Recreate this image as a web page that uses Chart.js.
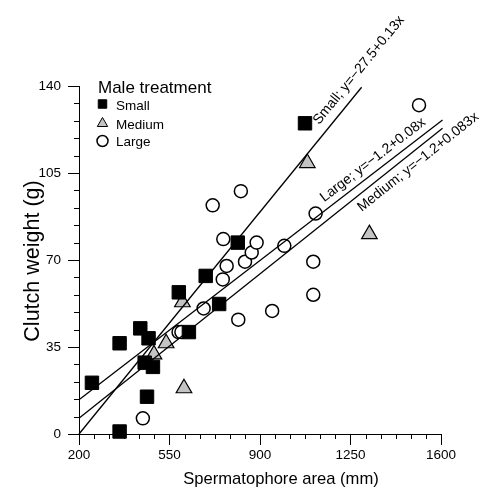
<!DOCTYPE html>
<html><head><meta charset="utf-8">
<script src="https://cdn.jsdelivr.net/npm/chart.js@4/dist/chart.umd.min.js"></script>
<style>html,body{margin:0;padding:0;background:#fff}#wrap{width:480px;height:489px;position:relative}</style>
</head><body><div id="wrap"><canvas id="c" width="480" height="489"></canvas></div>
<script>
// ---- data ----
const smallX  = [250, 357, 357, 437, 469, 454, 486, 463, 586, 625, 690, 742, 814, 1074];
const smallY  = [20.6, 36.5, 1, 42.5, 38.5, 28.7, 27, 15, 57, 41, 63.6, 52.3, 77, 125];
const mediumX = [490, 537, 600, 606, 1083, 1323];
const mediumY = [32, 36.5, 53, 18.4, 109, 80.4];
const largeX  = [447, 585, 596, 682, 717, 756, 758, 771, 816, 826, 842, 868, 887, 947, 994, 1106, 1106, 1115, 1515];
const largeY  = [6.3, 41, 41, 50.5, 92, 62.2, 78.4, 67.6, 46, 97.7, 69.3, 73, 77, 49.5, 75.7, 56, 69.3, 88.7, 132.3];
// regression lines (end points as drawn)
const lineSmallX  = [200, 1293];  const lineSmallY  = [0, 139.5];
const lineLargeX  = [200, 1606];  const lineLargeY  = [13.8, 126.3];
const lineMediumX = [200, 1606];  const lineMediumY = [6.3, 123];
// labels
const xTicks = [200, 550, 900, 1250, 1600];
const yTicks = [0, 35, 70, 105, 140];
const legendTitle = 'Male treatment';
const seriesNames = ['Small', 'Medium', 'Large'];
const lineLabels = ['Small; y=\u221227.5+0.13x', 'Large; y=\u22121.2+0.08x', 'Medium; y=\u22121.2+0.083x'];
const lineLabelAnchorX = [1155, 1165, 1257];
const xTitle = 'Spermatophore area (mm)';
const yTitle = 'Clutch weight (g)';

const FONT = '"Liberation Sans", Arial, Helvetica, sans-serif';
const pts = (xs, ys) => xs.map((x, i) => ({x, y: ys[i]}));

const deco = {
  id: 'deco',
  afterDraw(chart) {
    const ctx = chart.ctx, xs = chart.scales.x, ys = chart.scales.y;
    ctx.save();
    // minor ticks
    ctx.strokeStyle = '#000'; ctx.lineWidth = 1;
    ctx.beginPath();
    for (let k = 0; k < xTicks.length - 1; k++) {
      for (let j = 1; j < 6; j++) {
        const v = xTicks[k] + (xTicks[k+1] - xTicks[k]) * j / 6;
        const px = Math.round(xs.getPixelForValue(v)) + 0.5;
        ctx.moveTo(px, ys.bottom); ctx.lineTo(px, ys.bottom + 5);
      }
    }
    for (let k = 0; k < yTicks.length - 1; k++) {
      for (let j = 1; j < 5; j++) {
        const v = yTicks[k] + (yTicks[k+1] - yTicks[k]) * j / 5;
        const py = Math.round(ys.getPixelForValue(v)) + 0.5;
        ctx.moveTo(xs.left - 5, py); ctx.lineTo(xs.left, py);
      }
    }
    ctx.stroke();

    // axis titles
    ctx.fillStyle = '#000';
    ctx.font = '16.6px ' + FONT;
    ctx.textAlign = 'center'; ctx.textBaseline = 'alphabetic';
    ctx.fillText(xTitle, 281, 484);
    ctx.save();
    ctx.font = '21.5px ' + FONT;
    ctx.translate(39, 261); ctx.rotate(-Math.PI / 2);
    ctx.fillText(yTitle, 0, 0);
    ctx.restore();

    // line labels
    ctx.font = '14px ' + FONT;
    ctx.textAlign = 'left';
    const lines = [[lineSmallX, lineSmallY, -9], [lineLargeX, lineLargeY, -7], [lineMediumX, lineMediumY, 15]];
    lines.forEach((L, i) => {
      const [lx, ly, off] = L;
      const x0 = xs.getPixelForValue(lx[0]), y0 = ys.getPixelForValue(ly[0]);
      const x1 = xs.getPixelForValue(lx[1]), y1 = ys.getPixelForValue(ly[1]);
      const t = (lineLabelAnchorX[i] - lx[0]) / (lx[1] - lx[0]);
      const px = x0 + t * (x1 - x0), py = y0 + t * (y1 - y0);
      ctx.save();
      ctx.translate(px, py); ctx.rotate(Math.atan2(y1 - y0, x1 - x0));
      ctx.fillText(lineLabels[i], 0, off);
      ctx.restore();
    });

    // legend
    ctx.font = '17px ' + FONT;
    ctx.fillText(legendTitle, 98, 93);
    ctx.font = '13.5px ' + FONT;
    const leg = [
      {style: 'rect', r: 6, fill: '#000', border: '#000', bw: 1, y: 104, by: 110},
      {style: 'triangle', r: 6, fill: '#c4c4c4', border: '#000', bw: 1, y: 123.5, by: 129},
      {style: 'circle', r: 5.5, fill: '#fff', border: '#000', bw: 1.5, y: 141, by: 146}
    ];
    leg.forEach((it, i) => {
      ctx.fillStyle = it.fill; ctx.strokeStyle = it.border; ctx.lineWidth = it.bw;
      Chart.helpers.drawPoint(ctx, {pointStyle: it.style, radius: it.r, rotation: 0, borderWidth: it.bw}, 102.5, it.y);
      ctx.fillStyle = '#000';
      ctx.fillText(seriesNames[i], 116, it.by);
    });
    ctx.restore();
  }
};

const lineDs = (xs, ys) => ({
  type: 'scatter', data: pts(xs, ys), showLine: true, borderColor: '#000', borderWidth: 1.3,
  pointRadius: 0, fill: false, order: 0, clip: false
});

new Chart(document.getElementById('c'), {
  type: 'scatter',
  data: {
    datasets: [
      lineDs(lineSmallX, lineSmallY),
      lineDs(lineLargeX, lineLargeY),
      lineDs(lineMediumX, lineMediumY),
      {label: seriesNames[0], data: pts(smallX, smallY), pointStyle: 'rect', pointRadius: 9.5,
       backgroundColor: '#000', borderColor: '#000', borderWidth: 1, order: 1, clip: false},
      {label: seriesNames[1], data: pts(mediumX, mediumY), pointStyle: 'triangle', pointRadius: 9,
       backgroundColor: '#c4c4c4', borderColor: '#000', borderWidth: 1.2, order: 1, clip: false},
      {label: seriesNames[2], data: pts(largeX, largeY), pointStyle: 'circle', pointRadius: 6.5,
       backgroundColor: '#fff', borderColor: '#000', borderWidth: 1.5, order: 2, clip: false}
    ]
  },
  options: {
    responsive: false, animation: false, devicePixelRatio: 1,
    layout: {padding: {top: 86, right: 39, left: 0, bottom: 0}},
    plugins: {legend: {display: false}, tooltip: {enabled: false}},
    scales: {
      x: {
        type: 'linear', min: xTicks[0], max: xTicks[xTicks.length - 1],
        afterBuildTicks: s => { s.ticks = xTicks.map(v => ({value: v})); },
        afterFit: s => { s.height = 55; },
        ticks: {color: '#000', font: {family: FONT, size: 13.5}, padding: 2, maxRotation: 0,
                callback: v => String(v)},
        grid: {display: true, drawOnChartArea: false, tickLength: 11, tickColor: '#000', tickWidth: 1},
        border: {display: true, color: '#000', width: 1}
      },
      y: {
        type: 'linear', min: yTicks[0], max: yTicks[yTicks.length - 1],
        afterBuildTicks: s => { s.ticks = yTicks.map(v => ({value: v})); },
        afterFit: s => { s.width = 79; },
        ticks: {color: '#000', font: {family: FONT, size: 13.5}, padding: 7, callback: v => String(v)},
        grid: {display: true, drawOnChartArea: false, tickLength: 11, tickColor: '#000', tickWidth: 1},
        border: {display: true, color: '#000', width: 1}
      }
    }
  },
  plugins: [deco]
});
</script>
</body></html>
